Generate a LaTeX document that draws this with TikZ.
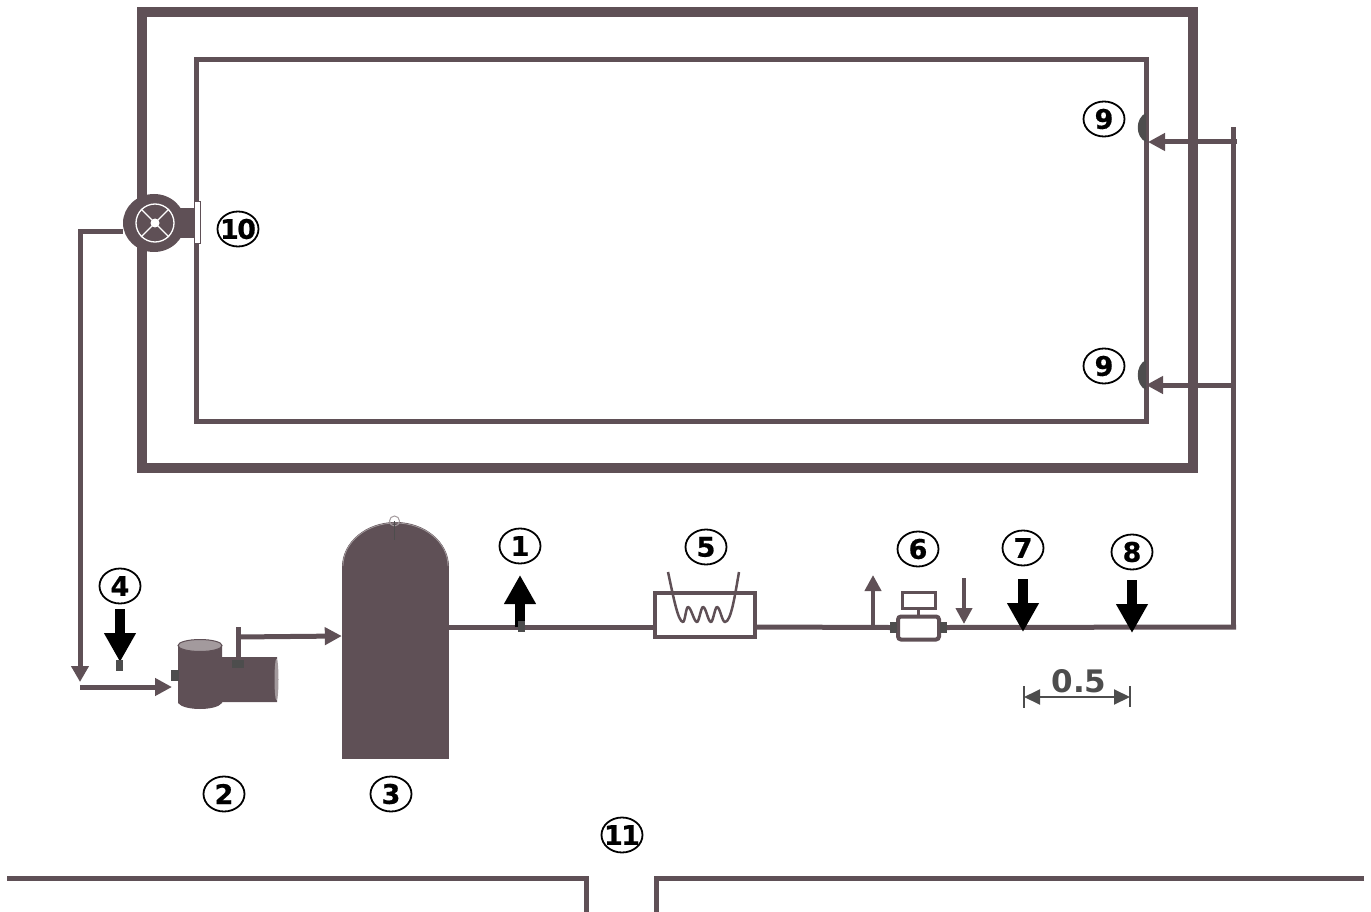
\documentclass[tikz,border=0pt]{standalone}
\usepackage{fontspec}
\setmainfont{DejaVu Sans}
\newfontfamily\tagfont[BoldFeatures={FakeBold=0.6},LetterSpace=-6]{DejaVu Sans}
\usetikzlibrary{arrows.meta,shapes.geometric}
\definecolor{wall}{HTML}{5F5056}
\definecolor{lite}{HTML}{A39A9D}
\definecolor{sens}{HTML}{4D4D4D}
\tikzset{
  x=1pt,y=-1pt,
  tag/.style={draw=black,line width=1.8pt,ellipse,minimum width=41pt,minimum height=35pt,inner sep=0pt,font=\tagfont\fontsize{27}{27}\selectfont\bfseries,text=black,text width=0pt,align=center},
  pipe/.style={draw=wall,line width=5pt},
  thin pipe/.style={draw=wall,line width=4pt},
  flow/.style={pipe,-{Triangle[length=17pt,width=17pt]}},
  smallflow/.style={thin pipe,-{Triangle[length=16pt,width=16pt]}},
  probearrow/.style={draw=black,line width=10pt,-{Triangle[length=29pt,width=30pt]}},
  sensor/.style={fill=sens,draw=none,inner sep=0pt,rectangle},
  dim/.style={draw=sens,line width=2pt},
}
\newcommand{\tagtext}[1]{\makebox[0pt][c]{#1}}
\begin{document}
\begin{tikzpicture}
\useasboundingbox (0,0) rectangle (1371,912);
% pool walls
\node[draw=wall,line width=10pt,minimum width=1051pt,minimum height=456pt,inner sep=0pt] (outer) at (667.5,240) {};
\node[draw=wall,line width=5pt,minimum width=950pt,minimum height=361pt,inner sep=0pt] (inner) at (671,240.5) {};
% building walls
\coordinate (bl0) at (7,878); \coordinate (bl1) at (586,878); \coordinate (bl2) at (586,912);
\coordinate (br0) at (1364,878); \coordinate (br1) at (656,878); \coordinate (br2) at (656,912);
\draw[pipe] (bl0) -- (bl1) -- (bl2);
\draw[pipe] (br0) -- (br1) -- (br2);
% tank
\node[fill=wall,draw=none,minimum width=107pt,minimum height=193pt,inner sep=0pt] (tank) at (395.5,662.5) {};
\fill[wall] (342,567) arc[start angle=180,end angle=0,x radius=53.5pt,y radius=45pt] -- cycle;
\draw[lite,line width=.8pt] (343,566) arc[start angle=180,end angle=0,x radius=52.5pt,y radius=43pt];
\node[circle,draw=lite,line width=1pt,minimum size=10pt,inner sep=0pt] (vent) at (394.5,521) {};
\coordinate (ventb) at (394.5,540);
\draw[sens,line width=.8pt] (vent.center) -- (ventb);
% pump 2
\fill[wall] (178,645) -- (222,645) -- (222,657) -- (277,657) -- (277,702) -- (222,702) -- (222,703)
  .. controls (216,711) and (184,711) .. (178,703) -- cycle;
\node[ellipse,fill=lite,draw=wall,line width=1pt,minimum width=44pt,minimum height=12pt,inner sep=0pt] (pumptop) at (200,645.5) {};
\node[ellipse,fill=lite,draw=none,minimum width=4pt,minimum height=42pt,inner sep=0pt] (pumpend) at (276.5,679.5) {};
\coordinate (pumpout) at (238,660);
\coordinate (pumpstub) at (238,627);
\coordinate (pumptee) at (238,637);
\coordinate (pumpin) at (172,687);
\node[sensor,minimum width=8pt,minimum height=11pt] (s2l) at (175,675.5) {};
% pipes left
\coordinate (retcorner) at (80,232);
\coordinate (retend) at (80,682);
\coordinate (suctstart) at (80,687);
\draw[pipe] (pumpout) -- (pumpstub);
\draw[flow] (pumptee) -- (tank.west |- 0,636);
\node[sensor,minimum width=12pt,minimum height=8pt] (s2t) at (238,664) {};
\draw[flow] (suctstart) -- (pumpin);
% main pump 10
\node[ellipse,fill=wall,draw=none,minimum width=62pt,minimum height=58pt,inner sep=0pt] (mainpump) at (154,223) {};
\node[fill=wall,draw=none,minimum width=18pt,minimum height=30pt,inner sep=0pt] (neck) at (187,223) {};
\node[fill=white,draw=wall,line width=1pt,minimum width=6pt,minimum height=42pt,inner sep=0pt] (flange) at (197,223) {};
\node[circle,draw=white,line width=1.3pt,minimum size=38pt,inner sep=0pt] (rotor) at (155,223) {};
\foreach \a in {45,135,225,315}{\draw[white,line width=1.2pt] (rotor.center) -- (rotor.\a);}
\node[circle,fill=white,draw=none,minimum size=9pt,inner sep=0pt] (hub) at (155,223) {};
\draw[pipe,-{Triangle[length=16pt,width=17pt]}] (mainpump.west |- 0,232) -- (retcorner) -- (retend);
% heater
\node[draw=wall,fill=white,line width=4pt,minimum width=100pt,minimum height=44pt,inner sep=0pt] (heater) at (705,615) {};
\draw[wall,line width=2.5pt,line join=round] (668,572) .. controls (673,595) and (678,622) .. (683,622)
  .. controls (685,622) and (686,607) .. (688,607) .. controls (691,607) and (694,622) .. (697,622)
  .. controls (699,622) and (701,607) .. (703,607) .. controls (706,607) and (708,622) .. (711,622)
  .. controls (713,622) and (715,607) .. (717,607) .. controls (720,607) and (722,622) .. (725,622)
  .. controls (731,622) and (735,595) .. (739,572);
% flow meter
\node[draw=wall,fill=white,line width=4pt,rounded corners=3pt,minimum width=41pt,minimum height=23pt,inner sep=0pt] (meter) at (918.5,628) {};
\node[draw=wall,line width=3pt,minimum width=33pt,minimum height=16pt,inner sep=0pt] (display) at (918.5,600) {};
\draw[wall,line width=3pt] (display.south) -- (meter.north);
\node[sensor,minimum width=7pt,minimum height=11pt] (ml) at (893.5,627.5) {};
\node[sensor,minimum width=7pt,minimum height=11pt] (mr) at (943.5,627.5) {};
% main line
\coordinate (lineend) at (1236,627);
\coordinate (riserb) at (1233.5,629);
\coordinate (risert) at (1233.5,127);
\coordinate (b1s) at (1237,142); \coordinate (b1e) at (1148,142);
\coordinate (b2s) at (1233.5,385); \coordinate (b2e) at (1146,385);
\draw[pipe] (tank.east |- 0,627) -- (heater.west |- 0,627);
\draw[pipe] (heater.east |- 0,627) -- (ml.west);
\draw[pipe] (mr.east) -- (lineend);
\draw[pipe] (riserb) -- (risert);
\draw[flow] (b1s) -- (b1e);
\draw[flow] (b2s) -- (b2e);
% inlets
\fill[sens] (1146,113) .. controls (1135,118) and (1135,137) .. (1146,142) -- cycle;
\fill[sens] (1146,360) .. controls (1135,365) and (1135,385) .. (1146,390) -- cycle;
% side flows
\coordinate (up0) at (873,627); \coordinate (up1) at (873,575);
\coordinate (dn0) at (964,578); \coordinate (dn1) at (964,624);
\draw[smallflow] (up0) -- (up1);
\draw[smallflow] (dn0) -- (dn1);
% probes
\coordinate (p1a) at (520,627); \coordinate (p1b) at (520,575);
\coordinate (p4a) at (120,609); \coordinate (p4b) at (120,662);
\coordinate (p7a) at (1023,579); \coordinate (p7b) at (1023,632);
\coordinate (p8a) at (1132,580); \coordinate (p8b) at (1132,633);
\draw[probearrow] (p1a) -- (p1b);
\draw[probearrow] (p4a) -- (p4b);
\draw[probearrow] (p7a) -- (p7b);
\draw[probearrow] (p8a) -- (p8b);
\node[sensor,minimum width=7pt,minimum height=11pt] (s1) at (521.5,626.5) {};
\node[sensor,minimum width=7pt,minimum height=11pt] (s4) at (119.5,665.5) {};
% dimension
\coordinate (d1) at (1024,697); \coordinate (d2) at (1130,697);
\coordinate (d1a) at (1024,686); \coordinate (d1b) at (1024,708);
\coordinate (d2a) at (1130,686); \coordinate (d2b) at (1130,707);
\draw[dim,{Triangle[length=16pt,width=15pt]}-{Triangle[length=16pt,width=15pt]}] (d1) -- (d2);
\draw[dim,line width=1.5pt] (d1a) -- (d1b);
\draw[dim,line width=1.5pt] (d2a) -- (d2b);
\node[text=sens,font=\fontsize{31}{31}\selectfont\bfseries,inner sep=0pt] (dimlabel) at (1079,681) {0.5};
% labels
\node[tag] (t1) at (520,546) {\tagtext{1}};
\node[tag] (t2) at (224,794) {\tagtext{2}};
\node[tag] (t3) at (391,794) {\tagtext{3}};
\node[tag] (t4) at (120,586) {\tagtext{4}};
\node[tag] (t5) at (706,547) {\tagtext{5}};
\node[tag] (t6) at (918,549) {\tagtext{6}};
\node[tag] (t7) at (1023,548) {\tagtext{7}};
\node[tag] (t8) at (1132,552) {\tagtext{8}};
\node[tag] (t9a) at (1104,119) {\tagtext{9}};
\node[tag] (t9b) at (1104,366) {\tagtext{9}};
\node[tag] (t10) at (238,229) {\tagtext{10}};
\node[tag] (t11) at (622,835) {\tagtext{11}};
\end{tikzpicture}
\end{document}
